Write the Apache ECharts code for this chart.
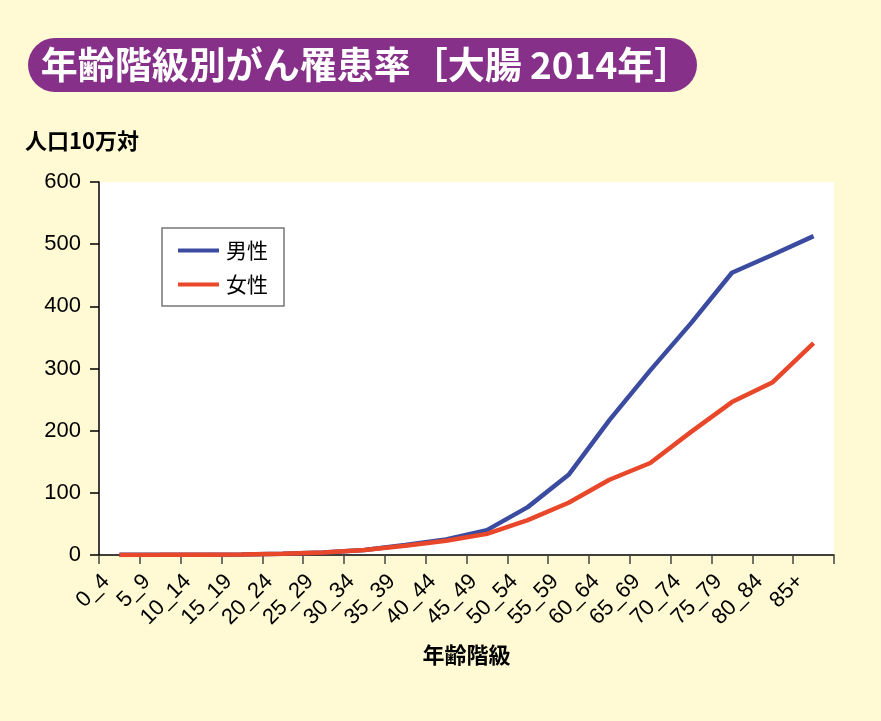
<!DOCTYPE html>
<html>
<head>
<meta charset="utf-8">
<script src="https://cdn.jsdelivr.net/npm/echarts@6/dist/echarts.min.js"></script>
<style>
html,body{margin:0;padding:0;background:#FFFAD3;}
#chart{width:881px;height:721px;}
</style>
</head>
<body>
<div id="chart"></div>
<script>
const ageGroups = ['0_4','5_9','10_14','15_19','20_24','25_29','30_34','35_39','40_44','45_49','50_54','55_59','60_64','65_69','70_74','75_79','80_84','85+'];
const maleRates = [0.3, 0.3, 0.5, 1, 2, 4, 8, 16, 25, 40, 77, 129, 217, 297, 373, 454, 483, 513];
const femaleRates = [0.2, 0.3, 0.5, 1, 2, 4, 8, 15, 23, 34, 56, 84, 121, 148, 198, 246, 278, 341];
const yTicks = {min: 0, max: 600, interval: 100};
const seriesNames = ['男性', '女性'];
const titleText = '年齢階級別がん罹患率［大腸 2014年］';
const yName = '人口10万対';
const xName = '年齢階級';

const CJK = '"Noto Sans CJK JP", sans-serif';
const NUM = '"Liberation Sans", "Noto Sans CJK JP", sans-serif';

const chart = echarts.init(document.getElementById('chart'), null, {renderer: 'canvas'});
chart.setOption({
  backgroundColor: '#FFFAD3',
  animation: false,
  grid: [
    {left: 99, right: 47, top: 182, bottom: 166, show: true, backgroundColor: '#ffffff', borderWidth: 0},
    {left: 106, right: 40, top: 182, bottom: 166, show: false}
  ],
  xAxis: [
    {
      type: 'category', gridIndex: 0, data: ageGroups, boundaryGap: true,
      axisLine: {lineStyle: {color: '#000', width: 1.5}},
      axisTick: {show: true, interval: 0, length: 9, lineStyle: {color: '#444', width: 1.5}},
      axisLabel: {show: false},
      name: xName, nameLocation: 'middle', nameGap: 100,
      nameTextStyle: {fontFamily: CJK, fontWeight: 'bold', fontSize: 22, color: '#000', verticalAlign: 'middle'}
    },
    {
      type: 'category', gridIndex: 1, data: ageGroups.concat(['']), boundaryGap: false,
      axisLine: {show: false}, axisTick: {show: false},
      axisLabel: {interval: 0, rotate: 45, margin: 23, fontFamily: NUM, fontSize: 22, color: '#000'}
    }
  ],
  yAxis: [
    {
      type: 'value', gridIndex: 0, min: yTicks.min, max: yTicks.max, interval: yTicks.interval,
      axisLine: {show: true, lineStyle: {color: '#000', width: 1.5}},
      axisTick: {show: true, length: 9, lineStyle: {color: '#000', width: 1.5}},
      splitLine: {show: false},
      axisLabel: {margin: 18, fontFamily: NUM, fontSize: 22, color: '#000'}
    },
    {type: 'value', gridIndex: 1, show: false, min: 0, max: 600}
  ],
  legend: {
    left: 162, top: 228, orient: 'vertical', icon: 'rect',
    backgroundColor: '#ffffff', borderColor: '#777', borderWidth: 1.5,
    padding: [12, 16, 11, 16], itemGap: 13, itemWidth: 41, itemHeight: 4,
    textStyle: {fontFamily: CJK, fontSize: 21, color: '#000', padding: [0, 0, 0, 2], lineHeight: 20},
    data: seriesNames
  },
  series: [
    {name: seriesNames[0], type: 'line', xAxisIndex: 0, yAxisIndex: 0, data: maleRates,
     symbol: 'none', lineStyle: {color: '#3B4BA0', width: 4.5}, itemStyle: {color: '#3B4BA0'}},
    {name: seriesNames[1], type: 'line', xAxisIndex: 0, yAxisIndex: 0, data: femaleRates,
     symbol: 'none', lineStyle: {color: '#E8472A', width: 4.5}, itemStyle: {color: '#E8472A'}}
  ],
  graphic: [
    {type: 'rect', shape: {x: 28, y: 38, width: 669, height: 54, r: 27}, style: {fill: '#86308A'}},
    {type: 'text', style: {x: 366, y: 65, text: titleText, fill: '#ffffff',
      font: 'bold 37px "Noto Sans CJK JP", sans-serif', align: 'center', verticalAlign: 'middle'}},
    {type: 'text', style: {x: 25, y: 141, text: yName, fill: '#000',
      font: 'bold 22px "Noto Sans CJK JP", sans-serif', align: 'left', verticalAlign: 'middle'}}
  ]
});
</script>
</body>
</html>
